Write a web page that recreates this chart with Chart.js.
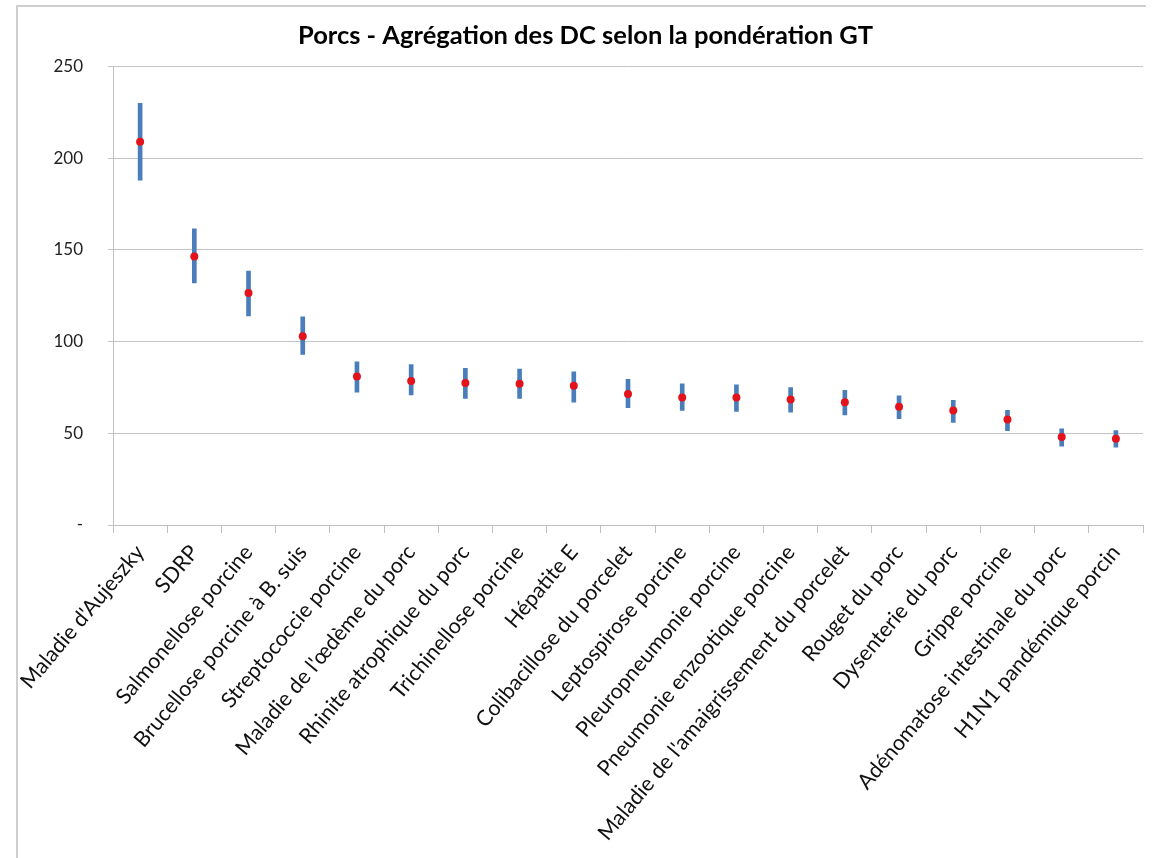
<!DOCTYPE html>
<html lang="fr">
<head>
<meta charset="utf-8">
<title>Porcs - Agrégation des DC selon la pondération GT</title>
<script src="https://cdn.jsdelivr.net/npm/chart.js@4"></script>
<style>
  html, body { margin: 0; padding: 0; background: #ffffff; }
  #wrap { width: 1153px; height: 858px; position: relative; }
  canvas { display: block; }
</style>
</head>
<body>
<div id="wrap"><canvas id="c" width="1153" height="858"></canvas></div>
<script>
// Diseases, in decreasing order of aggregated score
const categories = [
  "Maladie d'Aujeszky",
  "SDRP",
  "Salmonellose porcine",
  "Brucellose porcine à B. suis",
  "Streptococcie porcine",
  "Maladie de l'œdème du porc",
  "Rhinite atrophique du porc",
  "Trichinellose porcine",
  "Hépatite E",
  "Colibacillose du porcelet",
  "Leptospirose porcine",
  "Pleuropneumonie porcine",
  "Pneumonie enzootique porcine",
  "Maladie de l'amaigrissement du porcelet",
  "Rouget du porc",
  "Dysenterie du porc",
  "Grippe porcine",
  "Adénomatose intestinale du porc",
  "H1N1 pandémique porcin"
];

// Aggregated score (red dot)
const meanValues = [209, 146.5, 126.5, 103, 81, 78.5, 77.5, 77, 76, 71.5, 69.5, 69.5, 68.5, 67, 64.5, 62.5, 57.5, 48, 47];
// Lower and upper bounds of the range (blue bar)
const lowValues  = [188, 132, 114, 93, 72.5, 71, 69, 69, 67, 64, 62.5, 62, 61.5, 60, 58, 56, 51.5, 43, 42.5];
const highValues = [230, 161.5, 138.5, 113.5, 89, 87.5, 85.5, 85, 83.5, 79.5, 77, 76.5, 75, 73.5, 70.5, 68, 62.5, 52.5, 51.5];

// Y axis tick values (zero is shown as a dash)
const yTicks = [0, 50, 100, 150, 200, 250];

const rangeData = lowValues.map((lo, i) => [lo, highValues[i]]);

const FONT = "Lato, 'Open Sans', 'DejaVu Sans', sans-serif";

// Light grey frame around the chart area
const framePlugin = {
  id: 'frame',
  beforeDraw(chart) {
    const ctx = chart.ctx;
    ctx.save();
    ctx.strokeStyle = '#cfcfcf';
    ctx.lineWidth = 2;
    ctx.beginPath();
    ctx.moveTo(17, 870);
    ctx.lineTo(17, 6);
    ctx.lineTo(1146, 6);
    ctx.stroke();
    ctx.restore();
  }
};

new Chart(document.getElementById('c'), {
  type: 'bar',
  data: {
    labels: categories,
    datasets: [
      {
        type: 'line',
        label: 'Score',
        data: meanValues,
        showLine: false,
        pointRadius: 4,
        pointHoverRadius: 4,
        pointBackgroundColor: '#e3131b',
        pointBorderColor: '#e3131b',
        pointBorderWidth: 0,
        order: 0
      },
      {
        type: 'bar',
        label: 'Intervalle',
        data: rangeData,
        backgroundColor: '#4a7ebb',
        borderWidth: 0,
        barThickness: 4,
        borderSkipped: false,
        order: 1
      }
    ]
  },
  options: {
    responsive: false,
    animation: false,
    devicePixelRatio: 1,
    layout: { padding: { left: 28, right: 10, top: 0, bottom: 0 } },
    plugins: {
      legend: { display: false },
      tooltip: { enabled: false },
      title: {
        display: true,
        text: 'Porcs - Agrégation des DC selon la pondération GT',
        color: '#000000',
        font: { family: FONT, size: 25.5, weight: 'bold' },
        lineHeight: 1.2,
        padding: { top: 20, bottom: 16 }
      }
    },
    scales: {
      x: {
        offset: true,
        grid: {
          offset: true,
          display: true,
          drawOnChartArea: false,
          drawTicks: true,
          tickLength: 8,
          color: '#bfbfbf'
        },
        border: { display: true, color: '#bfbfbf', width: 1 },
        ticks: {
          autoSkip: false,
          minRotation: 50,
          maxRotation: 50,
          padding: 7,
          color: '#111111',
          font: { family: FONT, size: 21.5 }
        },
        afterFit(scale) { scale.height = 333; }
      },
      y: {
        min: 0,
        max: 250,
        afterBuildTicks(scale) { scale.ticks = yTicks.map(v => ({ value: v })); },
        grid: {
          color: '#c4c4c4',
          drawTicks: true,
          tickLength: 5
        },
        border: { display: true, color: '#bfbfbf', width: 1 },
        ticks: {
          padding: 25,
          color: '#222222',
          font: { family: FONT, size: 17 },
          callback: (v) => (v === 0 ? '-' : String(v))
        },
        afterFit(scale) { scale.width = 85; }
      }
    }
  },
  plugins: [framePlugin]
});
</script>
</body>
</html>
